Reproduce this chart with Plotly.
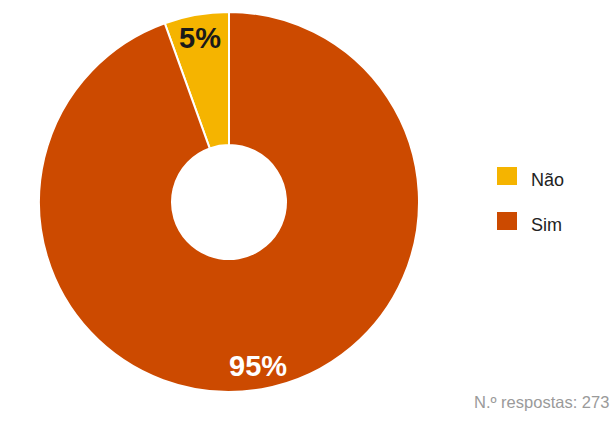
import math
import plotly.graph_objects as go

labels = ["Não", "Sim"]
values = [15, 258]
colors = ["#F5B400", "#CC4A00"]
text_colors = ["#1a1a1a", "#ffffff"]
note = "N.º respostas: 273"

W, H = 613, 422
cx, cy, r = 229, 202, 190
r_label = 166
total = sum(values)

fig = go.Figure(go.Pie(
    labels=labels,
    values=values,
    sort=False,
    direction="clockwise",
    rotation=-360 * values[0] / total,
    hole=0.3,
    marker=dict(colors=colors, line=dict(color="white", width=2)),
    textinfo="none",
    showlegend=False,
    domain=dict(x=[(cx - r) / W, (cx + r) / W], y=[1 - (cy + r) / H, 1 - (cy - r) / H]),
))

# percentage labels near the outer rim (counterclockwise from 12 o'clock)
cum = 0
for v, tc in zip(values, text_colors):
    mid = (cum + v / 2) / total
    cum += v
    th = 2 * math.pi * mid
    px = cx - r_label * math.sin(th)
    py = cy - r_label * math.cos(th)
    fig.add_annotation(x=px / W, y=1 - py / H, xref="paper", yref="paper",
                       text=f"<b>{round(100 * v / total)}%</b>", showarrow=False,
                       xanchor="center", yanchor="middle",
                       font=dict(family="Liberation Sans, Arial", size=29, color=tc))

# legend drawn manually
leg_y = [176, 221]
for lab, col, yy in zip(labels, colors, leg_y):
    fig.add_shape(type="rect", xref="paper", yref="paper",
                  x0=497 / W, x1=517 / W, y0=1 - (yy + 9) / H, y1=1 - (yy - 9) / H,
                  fillcolor=col, line=dict(width=0))
    fig.add_annotation(x=529 / W, y=1 - (yy + 4) / H, xref="paper", yref="paper",
                       text=lab, showarrow=False, xanchor="left", yanchor="middle",
                       font=dict(family="Liberation Sans, Arial", size=18, color="#222222"))

fig.add_annotation(x=611 / W, y=1 - 402 / H, xref="paper", yref="paper",
                   text=note, showarrow=False, xanchor="right", yanchor="middle",
                   font=dict(family="Liberation Sans, Arial", size=16.5, color="#9a9a9a"))

fig.update_layout(width=W, height=H, margin=dict(l=0, r=0, t=0, b=0),
                  paper_bgcolor="white", plot_bgcolor="white")
fig.write_html("out.html", config={"displayModeBar": False},
               post_script="document.body.style.margin='0';")
